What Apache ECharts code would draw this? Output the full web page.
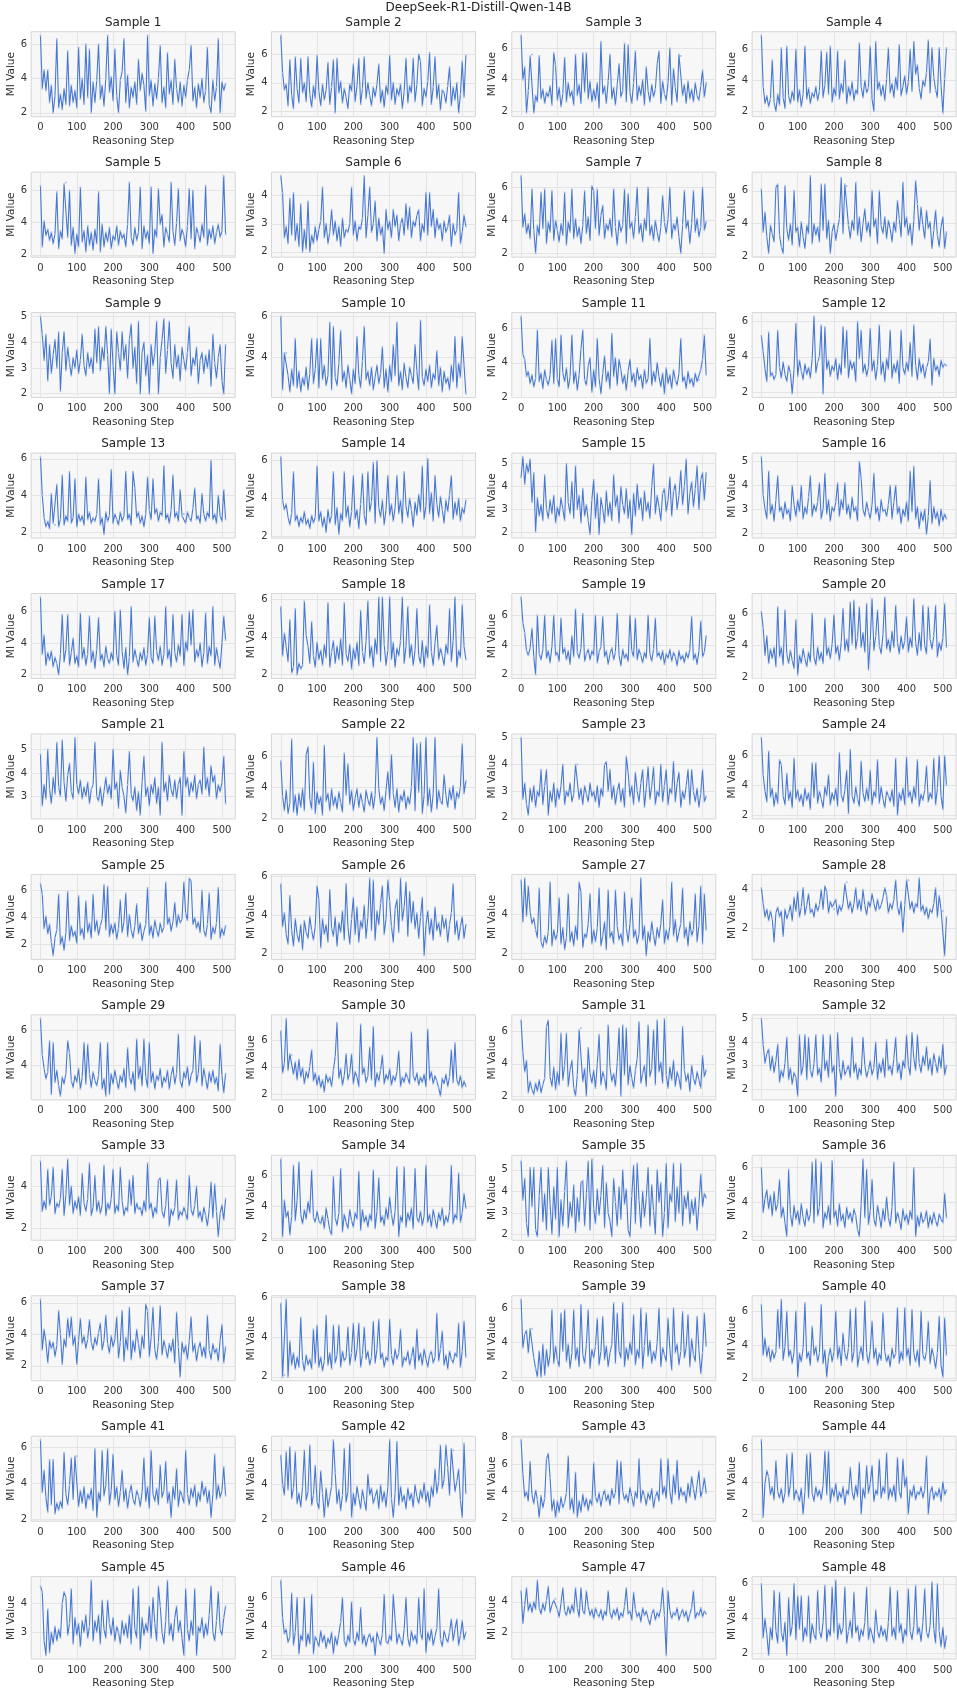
<!DOCTYPE html>
<html>
<head>
<meta charset="utf-8">
<script src="https://cdn.jsdelivr.net/npm/echarts@6/dist/echarts.min.js"></script>
<style>
html,body{margin:0;padding:0;background:#fff;}
#chart{width:957px;height:1690px;}
</style>
</head>
<body>
<div id="chart"></div>
<script>
const figTitle = 'DeepSeek-R1-Distill-Qwen-14B';
const xLabel = 'Reasoning Step';
const yLabel = 'MI Value';
const xTicks = [0,100,200,300,400,500];
const steps = [0,5,10,15,20,25,30,35,40,45,50,55,60,65,70,75,80,85,90,95,100,105,110,115,120,125,130,135,140,145,150,155,160,165,170,175,180,185,190,195,200,205,210,215,220,225,230,235,240,245,250,255,260,265,270,275,280,285,290,295,300,305,310,315,320,325,330,335,340,345,350,355,360,365,370,375,380,385,390,395,400,405,410,415,420,425,430,435,440,445,450,455,460,465,470,475,480,485,490,495,500,505,510];

const s1 = [6.5,3.4,4.5,3.3,4.5,2.6,3.6,2.0,3.0,6.3, 2.3,3.1,2.2,3.4,2.5,5.6,2.4,3.6,2.6,3.3, 2.3,5.8,2.8,4.0,2.5,6.0,2.9,5.7,2.0,3.8, 2.6,3.9,6.0,2.8,3.6,2.4,4.0,6.5,3.2,4.1, 2.7,5.7,3.0,2.0,3.9,4.4,6.3,2.6,4.2,2.3, 3.5,2.9,3.8,2.5,5.1,3.3,4.3,3.6,2.1,6.5, 3.0,3.9,2.4,3.7,2.8,4.0,5.9,2.6,3.5,2.3, 5.5,3.1,3.9,2.5,5.1,3.4,2.6,3.8,2.4,3.6, 2.9,3.9,4.5,5.9,2.7,3.5,2.3,3.7,2.9,4.0, 2.6,3.3,5.8,2.5,2.0,3.9,2.7,3.5,6.3,2.0, 3.8,3.3,3.7];
const s2 = [7.3,4.7,3.5,3.9,2.4,5.6,3.1,2.2,5.8,3.6, 2.6,5.7,3.3,4.0,2.7,5.8,3.2,2.3,3.8,2.9, 5.9,3.4,2.4,3.9,2.8,3.5,5.4,2.5,3.7,5.6, 1.9,5.7,3.3,4.1,2.6,3.6,3.0,2.2,3.9,3.4, 5.3,2.7,3.8,5.7,2.5,3.6,5.8,2.9,4.0,3.1, 2.4,3.7,3.0,3.9,5.3,2.6,3.5,2.3,3.8,3.2, 5.9,2.8,4.0,2.5,3.6,3.1,3.9,2.2,3.4,5.7, 2.6,3.8,3.3,5.7,2.7,3.9,6.0,5.5,2.4,3.6, 3.0,4.1,6.1,2.5,3.7,5.8,2.9,3.9,2.1,3.5, 3.3,2.6,3.8,5.1,2.4,3.7,2.8,4.0,1.9,3.2, 5.5,3.0,5.9];
const s3 = [6.8,4.0,4.8,1.9,3.3,5.5,5.6,1.9,3.0,2.6, 5.5,2.8,3.4,2.5,3.2,2.9,3.6,2.4,5.7,4.9, 2.7,3.5,2.3,3.1,5.4,2.6,3.8,2.9,3.3,2.4, 5.6,3.0,3.7,2.5,5.7,3.2,5.7,2.8,3.9,2.6, 3.4,2.7,3.8,2.2,6.4,3.1,3.6,2.5,3.9,5.6, 2.8,3.5,2.4,3.7,5.0,2.9,3.3,6.3,2.6,6.2, 3.2,2.5,3.8,5.8,2.7,3.6,3.0,4.0,2.4,4.8, 3.3,2.6,3.7,2.9,3.4,5.0,5.8,2.5,3.9,3.1, 2.7,3.8,6.0,2.4,4.7,3.5,2.6,5.6,5.5,3.0, 3.7,2.5,3.9,2.8,3.4,2.6,3.8,3.0,2.7,3.6, 4.6,2.9,3.8];
const s4 = [6.9,3.6,2.5,3.0,2.3,2.8,5.3,2.6,2.0,3.1, 2.4,6.1,2.9,2.2,6.2,3.0,2.5,3.3,2.7,6.0, 2.6,3.4,2.3,3.1,6.2,2.8,3.5,2.5,3.2,2.9, 3.6,2.7,3.3,5.9,2.9,3.7,5.8,3.1,6.2,2.6, 3.5,3.0,5.9,2.8,3.8,3.2,5.3,2.5,3.6,3.0, 3.9,2.7,3.4,3.1,6.4,3.6,2.9,4.0,3.2,3.5, 6.2,2.8,2.0,6.5,3.4,3.9,3.0,3.7,2.7,4.1, 6.1,3.2,3.8,2.9,4.2,3.4,6.3,3.0,3.6,4.3, 3.1,3.9,6.0,3.3,6.5,4.4,5.0,3.5,2.8,4.0, 3.6,4.5,6.6,3.2,6.1,4.2,3.4,2.9,6.1,3.7, 1.9,4.1,6.1];
const s5 = [6.3,2.5,4.1,3.2,3.6,2.9,3.4,2.7,3.3,5.9, 2.4,3.5,3.0,6.4,6.5,3.1,6.0,2.6,3.7,2.1, 3.3,2.5,6.2,2.8,3.5,2.2,3.8,2.6,3.4,2.3, 3.6,2.7,5.9,2.2,3.9,2.5,3.4,2.8,3.7,2.4, 3.2,2.9,3.8,2.6,3.5,3.0,3.3,2.5,3.9,6.5, 3.1,2.6,3.7,2.9,3.4,6.2,2.4,3.8,3.0,3.5, 2.7,6.2,2.1,3.6,3.1,6.1,3.9,4.5,2.5,3.7, 3.3,2.8,6.5,3.5,2.6,4.0,6.1,2.9,3.6,3.2, 2.5,3.8,6.1,3.0,6.0,2.4,3.7,3.3,2.8,3.9, 3.1,6.3,2.6,3.6,3.0,3.8,2.7,3.4,3.9,3.1, 3.5,6.9,3.3];
const s6 = [4.7,4.1,2.5,2.9,2.3,3.9,2.6,4.1,2.4,3.0, 2.2,3.7,2.0,2.8,2.1,3.8,2.0,2.6,2.3,2.9, 2.4,2.8,3.1,4.3,2.5,3.0,2.3,2.7,3.5,2.6, 3.1,2.4,2.9,2.2,3.2,2.5,2.8,2.7,3.0,4.3, 2.6,3.1,2.4,2.9,2.8,3.2,4.7,2.5,3.3,4.3, 2.7,3.0,3.8,2.4,3.2,2.6,2.9,1.95,3.5,2.8, 3.1,2.5,3.5,2.9,3.3,2.4,3.0,3.2,2.6,3.7, 2.8,3.6,2.5,3.1,2.9,3.3,3.5,2.4,3.0,2.7, 4.1,2.6,4.1,2.9,3.5,2.5,3.2,2.8,3.0,2.4, 3.1,2.7,2.9,3.3,2.2,3.0,2.6,2.8,4.1,2.3, 2.7,3.3,2.9];
const s7 = [6.7,3.6,4.4,3.2,3.8,2.9,5.9,3.4,2.0,3.7, 3.1,5.7,3.5,5.9,2.6,3.9,3.3,5.8,2.8,4.0, 3.4,2.7,3.8,3.1,5.7,2.5,3.9,3.3,5.9,2.9, 4.1,3.0,3.6,2.6,3.7,5.8,3.2,4.2,2.8,6.1, 5.8,3.5,5.9,3.1,4.3,4.9,2.9,3.8,3.4,4.1, 3.0,5.9,3.6,2.5,4.0,3.3,3.7,5.9,2.6,5.6, 3.5,3.9,2.9,4.2,6.0,3.2,3.8,2.7,4.1,3.4, 6.0,3.1,3.7,2.8,4.0,3.3,2.7,3.6,5.5,3.9, 3.2,4.1,6.0,2.9,3.8,3.4,4.2,3.0,2.0,3.7, 5.8,3.5,4.0,2.6,3.8,5.8,3.3,4.1,3.0,3.6, 6.0,3.4,3.9];
const s8 = [6.1,3.5,4.7,3.2,2.2,3.9,3.4,2.9,6.2,6.4, 3.3,2.6,2.2,6.3,3.7,3.0,4.0,2.7,6.0,3.5, 3.8,2.6,4.1,3.2,2.5,3.9,3.4,6.9,2.8,4.0, 3.3,3.8,2.9,6.4,3.6,6.4,3.1,4.2,2.2,3.5, 4.0,3.0,3.7,4.3,6.8,3.4,6.4,6.3,3.9,3.1, 4.2,3.6,6.5,3.3,4.4,2.9,4.0,4.9,3.5,4.1, 3.2,6.0,3.8,4.3,2.8,6.0,3.9,3.4,4.4,3.1, 4.2,3.7,2.9,4.1,3.5,5.4,4.3,3.2,6.5,3.8, 4.4,3.3,4.0,2.7,4.2,6.6,5.2,3.6,5.0,3.9, 3.1,4.8,3.7,4.1,2.5,3.6,4.8,3.3,2.6,3.8, 4.4,2.5,3.5];
const s9 = [5.0,4.3,3.3,4.3,2.5,3.9,2.8,3.5,4.1,3.0, 4.4,2.1,3.6,4.4,2.9,3.8,3.2,2.7,3.4,3.0, 3.7,2.8,3.3,4.3,3.1,2.7,3.6,3.0,3.4,2.8, 4.5,3.2,4.6,2.9,3.8,3.3,4.6,3.5,2.0,4.5, 3.1,2.0,4.4,3.6,2.9,4.4,3.3,3.9,2.6,4.1, 4.7,3.0,3.8,2.4,4.8,2.0,3.6,4.0,2.7,3.5, 2.0,3.9,3.1,3.6,4.8,2.0,3.4,4.1,4.9,2.8, 3.7,4.8,3.2,2.6,3.9,3.0,3.5,2.5,3.8,3.3, 2.9,3.6,4.6,2.7,3.4,3.1,3.8,2.4,3.3,3.6, 2.8,3.5,3.0,3.7,2.3,4.3,3.2,2.6,3.4,3.9, 2.5,2.0,3.9];
const s10 = [6.0,2.4,4.2,4.2,3.1,2.3,3.4,2.6,4.9,2.5, 3.3,2.3,3.0,2.6,3.5,2.4,3.2,4.9,2.7,3.4, 4.9,2.5,4.9,2.9,3.6,2.6,3.1,5.7,2.4,5.5, 3.0,2.6,3.7,5.3,2.8,3.3,2.5,3.6,2.9,2.2, 3.4,2.7,5.0,3.1,2.5,3.8,5.5,2.9,3.3,2.6, 3.5,2.4,3.0,3.6,2.7,3.2,4.5,2.5,3.4,2.3, 3.6,2.8,4.6,3.1,5.7,2.6,3.3,2.4,3.7,3.0, 2.5,3.5,3.1,2.7,4.6,3.3,2.4,5.8,3.0,2.6, 3.4,2.8,3.6,2.5,3.2,2.9,4.3,2.6,3.5,2.3, 3.3,2.7,3.0,2.4,3.6,2.8,5.0,2.5,3.7,3.0, 5.0,3.6,2.2];
const s11 = [6.7,4.5,4.2,3.2,3.5,2.8,3.3,2.6,3.1,5.9, 2.9,3.4,2.5,3.6,3.0,2.7,3.3,5.3,2.8,5.4, 3.1,2.6,5.6,3.4,2.9,3.7,2.5,3.2,5.6,2.8, 3.5,2.4,3.3,4.8,5.9,3.0,2.7,3.8,4.3,2.3, 3.6,2.6,5.4,3.1,2.2,3.4,4.4,2.9,3.5,2.5, 5.7,3.2,4.3,2.7,4.2,3.6,2.8,3.3,2.4,3.5, 4.2,2.9,3.4,2.6,3.7,3.0,3.3,2.5,3.6,2.8, 3.1,5.4,2.7,3.5,2.9,4.0,3.2,2.6,3.4,2.2, 3.7,2.8,3.3,2.5,3.6,3.0,2.7,3.4,5.4,2.9, 3.2,2.5,3.5,2.8,3.1,2.6,3.4,2.9,3.0,3.6, 4.2,5.6,3.3];
const s12 = [5.2,4.3,3.3,2.6,5.4,2.9,3.1,2.7,3.0,5.5, 3.4,2.8,3.7,3.0,2.6,3.5,3.1,1.9,3.3,5.9, 2.9,3.8,3.2,2.7,3.6,3.0,3.4,2.8,3.9,6.3, 3.1,3.7,4.0,5.8,1.9,5.7,3.3,3.8,2.9,3.5, 3.2,3.9,2.7,3.6,3.0,5.7,3.4,5.5,2.8,3.8, 3.3,3.7,2.6,6.0,3.9,5.5,3.1,3.6,2.9,3.4, 5.6,3.2,3.8,2.7,3.5,5.8,3.0,3.7,2.6,3.9, 3.3,5.5,2.8,3.6,3.1,3.8,2.5,5.5,3.4,3.0, 3.7,3.2,4.8,2.9,5.8,3.5,2.7,3.9,3.1,3.6, 2.8,3.4,3.7,5.0,2.4,3.9,3.2,3.5,2.9,3.8, 3.4,3.6,3.5];
const s13 = [6.1,4.0,2.8,2.3,2.6,2.2,4.1,2.5,2.4,4.6, 2.3,2.7,5.1,2.4,2.9,2.6,5.3,2.5,2.8,4.9, 2.3,3.0,2.6,2.9,2.4,5.0,2.7,3.1,2.5,2.8, 2.6,3.0,4.9,2.4,2.8,1.9,3.1,2.6,2.9,5.4, 2.5,3.0,2.7,2.4,3.1,2.6,2.9,5.3,2.7,3.0, 2.4,5.3,4.4,2.8,3.1,2.5,2.9,2.3,3.0,5.0, 3.2,2.7,4.9,3.0,3.3,2.6,3.1,2.9,5.6,2.7, 3.0,2.5,3.2,5.1,2.8,3.1,2.6,4.3,2.9,3.0, 2.5,3.1,2.8,2.6,3.3,4.4,2.7,2.9,2.5,4.1, 3.0,2.6,3.1,2.8,5.9,2.7,3.0,2.5,4.0,2.9, 2.6,4.3,2.7];
const s14 = [6.2,3.9,3.4,3.7,3.0,2.6,3.2,5.4,2.8,3.1, 2.5,3.0,2.7,3.3,2.6,2.9,2.4,3.1,2.7,3.0, 5.7,2.8,3.3,2.5,3.0,2.2,3.4,2.7,3.1,5.4, 2.6,3.5,2.1,3.2,2.8,5.4,3.0,3.6,2.5,3.3, 5.2,2.9,3.4,2.4,3.7,5.3,3.1,2.6,5.4,3.3, 3.8,5.9,2.7,6.0,3.5,3.0,3.9,2.6,3.4,5.2, 3.1,3.7,2.8,3.5,5.2,3.2,3.9,2.7,5.4,3.6, 3.0,4.0,3.4,2.5,3.8,3.1,4.2,3.3,5.7,2.9, 3.6,6.1,3.2,4.3,2.8,5.2,3.7,3.0,4.1,3.4, 2.7,3.9,3.3,4.2,5.2,2.9,3.8,3.1,4.0,2.8, 3.5,3.2,3.9];
const s15 = [4.4,5.3,4.1,5.0,4.6,5.2,3.3,4.6,2.0,3.5, 2.7,3.2,2.5,4.5,3.0,2.6,3.4,2.8,3.6,2.4, 3.1,2.7,3.5,3.0,2.5,5.0,3.3,2.8,4.2,2.6, 4.9,3.0,3.6,2.4,3.9,2.7,3.2,2.5,1.9,3.4, 4.3,2.6,3.7,1.9,3.5,3.0,2.4,3.8,2.7,3.3, 2.5,4.5,3.1,3.6,2.4,4.0,3.2,2.8,3.9,2.6, 3.4,1.9,3.7,2.7,4.1,3.0,3.5,2.5,3.8,2.9, 3.3,2.6,4.0,5.0,2.8,3.6,3.1,2.5,3.7,3.9, 2.9,3.4,4.4,2.7,3.8,4.1,3.0,3.6,4.7,3.2, 4.0,5.2,2.8,3.7,4.2,3.1,3.9,4.9,3.0,4.3, 4.6,3.4,4.6];
const s16 = [5.2,3.6,3.0,2.6,4.6,2.8,3.2,2.5,3.4,4.4, 2.9,3.1,2.6,3.3,2.8,3.0,2.5,4.0,3.2,2.7, 3.4,2.9,4.0,2.6,3.1,2.8,3.5,4.4,2.7,3.2, 2.9,3.3,4.1,2.6,3.0,4.5,2.8,3.4,2.5,3.1, 2.9,3.3,4.1,2.7,3.4,3.0,4.1,2.8,3.2,2.6, 3.5,2.9,3.1,2.5,5.0,4.3,3.0,2.7,3.3,2.9, 2.6,3.2,4.5,2.8,3.1,2.5,3.4,2.9,3.0,2.7, 3.2,4.0,2.6,3.3,4.0,2.8,3.1,2.4,3.0,2.7, 3.3,2.5,4.6,2.9,4.8,2.6,3.1,2.2,2.9,2.5, 3.0,1.95,2.7,4.2,2.4,3.1,2.6,2.9,2.3,3.0, 2.5,2.8,2.6];
const s17 = [6.9,3.3,4.5,2.6,3.4,2.9,3.5,2.5,3.1,2.7, 2.0,3.3,5.8,2.8,3.6,5.8,2.6,3.4,4.3,2.7, 3.2,2.5,5.9,3.0,3.7,2.6,3.3,5.7,2.8,3.5, 2.4,3.6,5.6,2.9,3.3,2.5,3.8,3.0,2.7,3.4, 2.9,6.0,3.2,2.6,6.1,3.5,2.4,3.7,2.0,3.1, 6.3,2.8,3.6,3.0,2.5,3.4,2.9,3.7,2.6,3.3, 5.6,3.1,2.7,5.7,3.5,2.9,3.8,2.6,3.3,6.3, 3.0,3.6,2.5,5.8,3.4,2.8,3.9,3.2,5.8,2.6, 4.1,3.5,6.0,3.9,6.1,2.8,3.6,3.1,4.0,2.5, 3.4,5.9,2.7,3.8,3.2,6.3,2.6,3.7,3.0,2.4, 4.0,5.7,4.2];
const s18 = [5.6,3.0,4.2,3.5,2.7,4.9,2.1,2.4,5.5,2.0, 2.6,2.3,2.5,5.9,4.1,3.5,2.6,4.8,3.0,2.4, 3.7,2.8,3.3,2.5,3.6,2.9,5.8,2.4,3.2,3.8, 2.6,3.5,2.8,3.9,2.5,5.8,3.1,2.7,3.6,2.3, 3.4,2.8,3.7,2.5,5.4,3.2,2.6,3.8,5.9,2.9, 3.5,2.4,3.9,3.1,6.1,2.7,6.1,3.6,2.5,3.3, 6.1,2.8,3.7,2.4,3.4,3.0,3.8,6.1,2.6,3.5, 5.6,2.9,3.6,2.5,3.3,5.5,3.0,2.6,3.8,2.4, 3.5,2.9,5.7,3.2,2.5,3.7,4.6,2.8,3.4,3.0, 2.5,3.6,3.1,5.5,2.7,3.8,6.1,2.4,3.3,2.9, 5.7,3.5,2.8];
const s19 = [7.2,5.5,4.8,3.6,3.3,3.8,5.1,3.2,2.0,6.0, 3.4,3.0,3.7,6.0,3.1,3.6,2.8,3.9,6.0,3.3, 3.5,2.9,5.8,3.4,3.8,3.0,3.6,2.7,4.6,3.2, 6.4,3.5,3.1,3.8,6.1,2.9,3.4,3.7,3.0,3.6, 3.3,6.0,2.8,3.5,3.9,5.9,3.2,3.6,2.7,3.4, 3.8,3.0,3.5,6.1,3.3,2.6,3.7,3.1,3.4,2.9, 6.0,3.6,3.2,5.8,3.0,3.7,3.3,2.8,3.5,3.1, 6.0,3.4,2.9,3.7,5.8,3.2,3.5,3.0,3.6,2.7, 3.4,3.1,3.7,2.9,3.5,3.2,2.6,3.6,3.0,3.3, 2.8,3.5,3.1,3.7,5.9,3.0,3.4,2.7,3.6,5.6, 3.2,3.5,4.6];
const s20 = [6.1,5.1,3.4,4.6,2.9,3.8,3.2,3.9,2.7,6.4, 3.3,3.9,2.8,6.2,3.5,2.9,3.7,3.1,2.6,5.6, 2.2,3.4,2.9,3.8,3.2,2.7,3.6,3.0,6.0,3.3, 2.8,3.9,3.1,3.6,2.9,5.7,3.4,3.9,3.2,4.1, 5.9,3.5,4.0,3.1,4.2,6.3,3.7,4.4,3.6,6.7, 4.1,6.8,3.8,4.5,6.4,3.9,4.8,3.6,6.6,2.5, 4.3,6.9,3.7,4.6,6.2,4.0,3.5,4.7,7.0,3.8, 4.4,3.6,4.9,3.9,6.5,4.2,3.5,4.6,3.8,4.3, 5.8,3.6,4.5,3.9,6.9,4.2,3.4,4.8,3.7,6.5, 4.0,3.5,6.4,4.4,3.8,4.6,6.5,3.3,4.2,3.7, 4.5,6.6,3.9];
const s21 = [4.8,2.6,3.5,2.9,5.0,3.3,2.7,3.8,3.1,5.3, 3.4,3.0,5.4,3.6,2.8,3.9,4.4,3.2,2.9,5.5, 3.5,3.1,3.7,2.9,3.4,3.0,3.6,2.7,3.3,3.5, 5.3,3.0,2.8,3.4,2.6,3.2,3.8,3.1,3.5,2.9, 5.0,3.3,3.6,2.5,4.1,3.4,3.0,2.3,3.5,4.9, 3.1,2.8,3.4,2.4,3.2,2.2,3.6,4.7,3.0,3.4, 2.6,3.5,3.1,3.8,2.7,3.4,2.2,5.3,3.2,3.6, 2.8,3.9,3.3,3.0,3.7,2.9,3.5,3.8,2.2,4.9, 3.4,3.8,3.0,3.6,3.2,3.9,2.9,3.5,3.7,3.1, 5.1,3.3,3.8,3.0,4.3,3.6,3.9,2.9,3.5,3.2, 3.6,4.7,2.7];
const s22 = [5.7,3.4,2.5,3.8,2.3,3.0,7.1,2.4,3.5,2.2, 3.6,2.7,3.9,2.5,6.1,6.6,3.2,2.6,5.6,2.3, 3.7,2.9,3.4,2.2,6.7,3.1,3.6,2.5,3.9,2.8, 3.4,2.6,3.7,3.0,2.4,6.2,3.5,5.5,2.9,3.8, 2.5,3.3,3.9,2.7,3.6,3.0,2.4,3.8,3.2,2.8, 3.7,2.6,3.5,7.2,3.9,2.9,3.4,2.5,3.8,5.0, 3.2,6.1,3.6,2.7,3.9,2.4,3.5,3.1,3.8,2.6, 3.4,2.9,4.0,7.2,2.5,6.8,3.7,6.9,2.3,3.5, 7.2,2.8,3.9,2.4,3.6,7.2,2.6,3.8,3.1,2.9, 4.8,3.5,2.7,3.9,3.2,4.1,2.6,3.7,3.3,4.0, 6.8,3.6,4.4];
const s23 = [5.0,2.7,3.3,2.5,2.1,3.1,2.6,3.2,2.4,3.0, 2.8,3.8,2.5,3.2,3.8,2.1,3.0,2.6,3.3,2.4, 3.1,2.7,3.2,4.0,2.5,3.0,2.8,3.3,2.6,2.9, 4.0,4.0,2.7,3.1,2.5,3.2,2.9,2.6,3.3,2.8, 3.0,2.6,3.2,2.4,3.1,2.8,4.0,4.1,3.0,3.8, 2.7,3.2,2.5,3.0,3.3,2.6,3.1,2.4,4.3,3.7, 2.8,3.2,2.5,3.7,3.0,2.6,3.3,3.8,2.4,3.1, 3.9,2.7,3.2,3.9,2.5,3.0,2.8,4.0,2.6,3.2, 3.8,2.5,3.1,2.9,4.1,2.6,3.3,3.7,2.4,3.0, 2.7,3.2,3.8,2.5,3.8,3.0,2.6,3.1,2.4,2.9, 3.8,2.6,2.8];
const s24 = [7.2,4.7,3.6,2.9,6.3,3.2,3.8,2.6,3.5,2.8, 5.7,5.4,3.3,2.7,4.8,3.0,3.6,2.5,5.8,3.1, 3.7,2.9,3.4,2.6,3.8,3.0,3.5,2.4,5.5,3.2, 5.5,2.8,3.6,3.1,2.5,3.9,3.3,4.7,2.7,3.5, 3.0,3.8,2.6,6.2,3.4,2.9,3.7,5.0,2.1,6.4, 3.3,2.8,3.9,3.1,2.6,5.6,3.5,2.9,3.8,3.0, 5.0,2.7,3.6,3.2,5.7,2.8,3.9,3.1,2.5,3.6, 3.3,2.9,3.7,2.6,5.8,2.0,3.5,3.0,3.8,2.7, 5.9,3.2,3.6,2.8,3.9,3.1,5.7,2.6,3.4,3.0, 3.7,5.3,2.9,3.5,3.1,5.8,2.7,3.8,6.0,3.3, 2.4,6.0,4.0];
const s25 = [6.5,5.7,3.2,4.1,2.8,3.5,2.2,1.2,2.5,3.1, 5.7,2.0,2.6,1.6,2.9,5.9,2.3,3.4,2.6,3.0, 2.1,5.6,2.7,3.2,2.4,5.2,2.9,3.6,2.5,5.7, 3.0,3.8,2.7,3.4,3.9,6.4,3.1,6.3,2.6,3.5, 2.8,3.6,2.4,3.2,5.3,2.9,3.7,5.8,2.6,4.2, 3.1,2.5,3.4,5.0,2.8,3.6,2.3,3.0,3.5,6.2, 2.7,3.4,2.5,3.8,3.1,2.6,3.6,2.9,3.3,6.6, 3.5,4.0,3.0,3.7,5.1,3.3,4.2,3.6,3.9,6.6, 4.3,3.8,6.9,6.7,3.5,4.0,3.2,3.7,2.9,6.0, 3.1,2.6,3.5,5.8,2.4,3.3,2.8,3.6,6.2,2.5, 3.2,2.7,3.4];
const s26 = [5.6,3.4,4.1,3.0,2.5,5.0,3.2,2.4,3.8,3.0, 2.6,3.5,2.2,3.7,3.1,2.8,3.9,3.2,2.7,3.4, 5.5,4.8,2.3,3.8,3.0,3.5,2.6,5.3,3.3,2.9, 3.9,2.4,3.6,3.1,4.2,2.7,5.6,3.4,2.5,3.8, 4.9,3.0,4.4,2.6,3.7,3.3,4.5,2.8,3.9,5.9, 3.2,5.8,2.7,4.2,3.5,4.6,5.5,3.0,3.8,5.8, 4.7,3.4,2.6,4.3,4.8,3.1,5.9,3.7,4.4,5.7, 2.9,5.2,3.6,4.7,3.3,4.1,2.8,3.9,4.9,1.9, 3.5,4.2,3.0,3.8,2.7,4.4,3.2,3.6,2.9,4.0, 3.3,3.8,2.6,3.5,4.1,5.6,3.0,3.7,2.7,3.4, 3.9,2.8,3.5];
const s27 = [5.7,3.6,5.8,3.9,5.4,4.1,3.5,3.8,3.2,2.8, 5.3,2.6,2.3,2.9,2.5,3.1,5.6,2.4,3.2,2.7, 3.0,4.8,2.5,3.3,2.2,2.8,5.0,2.6,3.1,2.4, 3.4,2.7,5.6,5.1,2.3,3.0,2.8,3.5,5.0,2.5, 3.2,2.6,3.3,5.3,2.4,2.9,3.6,2.2,5.2,2.8, 3.1,2.5,5.2,3.4,2.7,3.0,2.4,5.1,3.3,2.6, 3.5,4.8,2.8,3.2,2.5,3.0,5.8,2.7,3.4,1.9, 3.1,2.6,3.6,2.9,2.4,3.3,2.8,3.5,4.7,2.5, 3.2,2.7,3.4,5.6,2.9,3.7,2.6,3.1,3.5,5.3, 2.8,3.3,2.4,3.6,2.9,3.2,5.0,2.6,3.4,5.4, 2.5,5.0,3.2];
const s28 = [4.1,3.3,2.6,3.0,2.4,2.9,2.5,1.3,2.8,3.1, 2.6,2.9,1.6,3.0,2.5,2.8,3.2,2.4,3.6,2.9, 3.9,2.6,3.1,4.1,2.7,3.2,3.8,2.8,3.0,2.6, 3.3,2.9,3.2,4.0,3.0,4.2,3.9,2.8,3.4,3.1, 3.0,3.5,2.7,3.2,2.9,3.3,4.3,4.4,3.0,3.4, 2.8,3.3,4.1,3.0,3.5,2.9,4.0,3.2,2.7,3.4, 3.1,3.8,3.3,2.9,3.5,3.0,3.2,3.6,4.1,3.7, 2.8,3.3,3.0,3.5,4.5,3.1,2.7,3.4,1.8,3.2, 4.5,4.5,3.0,3.4,2.8,3.3,3.1,4.6,2.9,3.2, 2.7,3.1,2.5,3.0,2.8,3.3,4.1,2.6,3.7,3.0, 2.9,0.6,2.6];
const s29 = [6.7,4.6,3.8,3.2,3.6,5.4,2.3,5.3,3.0,3.7, 2.8,2.2,3.3,2.9,3.5,5.4,4.7,3.1,2.7,3.4, 3.0,3.8,2.6,3.3,5.3,2.9,5.2,3.5,2.7,3.6, 3.1,2.8,3.4,5.3,2.6,3.2,2.2,5.3,2.3,3.5, 2.9,3.7,3.1,2.6,3.4,3.0,3.8,2.7,5.0,3.3, 2.9,3.6,2.5,5.5,3.2,3.9,2.8,5.5,3.3,2.7, 5.3,3.0,3.6,2.6,3.4,3.1,3.8,2.7,3.3,3.0, 3.7,2.6,3.4,3.9,2.9,3.5,5.8,3.1,2.7,3.6, 3.2,3.9,2.8,3.4,3.7,5.7,3.0,3.5,5.4,2.8, 3.8,3.2,2.6,3.6,3.0,3.7,2.9,3.3,2.5,5.2, 3.4,2.4,3.5];
const s30 = [6.7,3.6,4.3,7.6,3.8,5.0,4.9,3.5,4.4,3.1, 4.6,3.3,4.0,2.8,3.7,3.2,4.1,5.3,3.0,3.6, 2.7,3.4,2.5,3.1,2.2,3.5,2.9,3.3,2.6,3.8, 4.8,7.3,3.2,3.9,2.7,3.4,5.0,3.1,3.6,5.0, 2.8,3.7,3.3,2.6,7.2,3.5,4.0,2.9,3.4,5.5, 3.1,7.0,2.6,3.6,3.0,3.8,4.9,2.8,3.5,3.1, 3.9,2.7,3.4,3.0,3.7,5.2,2.6,3.3,2.9,3.6, 3.2,2.8,6.6,3.4,3.0,3.6,2.7,3.3,2.9,3.5, 2.6,6.8,3.1,3.7,2.8,3.4,3.0,2.5,1.9,3.2, 2.8,3.5,2.6,3.3,5.3,2.9,5.8,3.1,2.7,3.4, 2.5,3.0,2.6];
const s31 = [6.7,4.7,3.5,4.2,2.2,2.9,2.4,2.1,2.8,2.3, 3.0,2.2,2.7,3.1,6.3,6.7,3.2,2.6,3.8,2.4, 3.5,2.7,5.9,3.0,3.9,5.9,2.6,3.6,4.2,2.5, 2.0,3.3,6.1,6.2,2.9,3.7,2.0,5.0,3.4,2.8, 3.6,2.5,4.0,5.8,2.7,3.5,3.1,2.4,6.4,3.8, 2.9,3.4,2.6,4.1,6.2,2.0,6.4,3.3,6.2,2.7, 3.9,3.1,2.5,3.6,4.3,6.6,2.8,3.4,3.9,2.6, 6.4,3.2,3.7,6.1,2.7,6.7,3.5,4.1,2.8,6.8, 3.3,2.5,3.8,3.0,4.2,2.6,3.5,3.1,2.4,6.3, 3.6,2.9,3.4,2.3,3.9,3.1,2.7,3.5,3.0,2.5, 4.5,3.2,3.6];
const s32 = [5.0,3.9,3.1,3.5,3.7,2.8,3.4,2.7,3.2,3.9, 2.3,2.8,2.5,3.1,4.2,2.4,2.9,2.2,2.7,2.5, 1.7,4.3,2.6,3.0,4.3,2.4,4.2,2.8,2.5,3.1, 4.3,2.6,2.9,2.3,4.3,2.8,3.2,2.5,4.3,2.7, 3.0,1.7,4.4,2.9,2.4,3.2,2.6,2.8,3.0,2.5, 4.2,2.7,3.1,2.4,2.9,2.6,4.2,3.0,2.5,2.8, 3.2,2.6,2.9,4.0,2.4,3.1,2.7,3.3,2.5,4.1, 2.8,3.0,2.6,3.3,4.2,2.7,3.1,2.4,3.2,2.9, 4.3,3.0,2.6,4.4,3.3,2.8,4.3,3.1,2.7,3.4, 3.0,3.8,2.8,3.3,2.6,3.5,3.1,2.7,3.4,2.9, 3.9,2.6,3.0];
const s33 = [5.2,2.8,3.3,2.9,4.8,3.1,3.5,4.9,2.7,3.2, 3.0,3.4,4.8,2.6,3.6,5.3,3.1,4.0,2.7,3.3, 2.9,3.5,2.6,4.6,3.2,2.8,3.4,5.1,2.6,3.0, 4.5,2.8,3.3,2.7,3.1,5.0,2.6,3.2,2.9,3.4, 4.8,2.7,3.1,2.8,4.9,3.3,2.6,3.0,2.8,4.3, 3.1,4.5,2.7,3.2,2.9,3.0,2.6,3.3,2.8,5.1, 2.9,3.2,2.5,3.0,2.7,4.3,4.4,2.8,2.5,3.1, 4.3,2.1,2.9,2.6,3.0,4.3,2.4,2.8,2.6,3.0, 2.7,2.4,4.5,2.9,2.6,3.1,4.0,2.5,2.8,2.3, 3.0,2.6,2.1,2.9,4.2,2.5,4.1,2.8,1.6,2.7, 3.1,2.4,3.4];
const s34 = [7.0,2.1,4.4,3.3,3.7,2.2,3.4,6.6,3.1,4.4, 6.8,3.5,2.9,3.8,3.2,4.3,3.6,6.3,3.3,3.0, 3.7,3.1,2.9,3.4,2.6,3.9,3.2,2.5,2.2,5.9, 3.3,2.8,3.6,6.4,2.4,3.5,3.0,2.6,3.8,3.1, 2.7,3.6,3.2,6.2,2.5,3.8,3.0,3.4,2.7,3.5, 3.1,6.3,2.6,3.7,5.8,3.0,3.4,2.8,3.9,3.2, 4.6,3.5,2.8,3.7,6.5,2.1,3.4,3.0,6.5,2.7, 3.6,3.1,3.9,2.6,6.4,3.3,3.0,3.7,2.8,3.4, 6.6,3.0,3.5,2.7,3.8,3.2,2.6,3.6,3.1,3.9, 2.8,3.4,3.0,3.7,6.6,2.9,3.5,3.2,6.1,3.0, 3.6,4.8,3.9];
const s35 = [5.4,3.6,4.6,2.5,1.9,5.1,3.3,5.1,2.2,1.9, 3.8,5.1,2.6,3.9,2.2,5.1,3.4,2.0,4.2,2.7, 5.1,1.9,3.6,2.4,4.0,5.4,2.3,3.5,2.8,4.3, 2.1,3.7,2.6,4.4,4.5,2.4,3.9,5.4,2.2,5.5, 3.2,2.5,4.1,2.9,3.8,5.2,2.3,4.4,3.0,2.6, 1.9,4.6,3.5,2.4,4.2,2.7,5.0,3.4,4.1,2.2, 1.9,3.8,5.2,2.5,5.3,3.6,2.3,4.0,2.8,3.7, 5.1,2.4,4.3,3.1,2.0,5.0,3.5,4.4,1.9,3.0, 5.3,2.3,3.9,3.5,5.3,2.6,4.2,3.0,5.3,2.4, 3.8,3.2,4.0,2.5,3.6,2.9,3.7,2.2,3.4,4.8, 3.3,3.9,3.7];
const s36 = [6.0,3.4,4.2,4.7,3.6,4.4,3.2,4.6,3.5,3.9, 5.3,3.1,3.7,2.8,2.0,5.9,3.3,2.6,3.8,3.0, 3.5,2.7,3.9,3.1,2.6,3.6,2.9,3.3,6.3,2.8, 6.5,3.2,3.7,6.3,2.5,3.4,3.0,3.8,2.7,6.4, 3.1,3.5,2.6,3.9,2.9,3.3,2.5,3.7,3.0,3.4, 2.8,3.6,3.2,2.4,2.0,3.9,6.5,3.1,5.9,2.7, 3.5,5.3,3.0,2.6,3.8,3.2,2.5,3.6,2.9,4.3, 3.1,2.6,3.7,6.3,2.8,3.4,3.0,2.4,3.6,2.9, 3.3,2.7,3.5,3.0,6.0,2.0,3.2,2.6,3.4,2.8, 3.0,3.5,2.5,3.2,2.7,3.4,2.9,2.6,3.3,3.0, 2.8,4.5,3.1];
const s37 = [6.2,3.0,4.3,3.5,2.2,3.6,3.1,3.5,2.6,3.3, 5.5,4.0,2.1,3.7,3.2,5.0,3.8,5.1,3.3,3.9, 2.1,3.6,5.0,3.4,3.9,3.1,3.7,4.9,3.5,3.0, 3.8,3.3,4.1,4.7,3.0,3.6,5.2,3.4,2.8,3.9, 3.2,3.7,5.1,2.5,3.5,5.5,2.3,3.8,3.0,5.7, 2.4,3.6,2.9,4.3,3.4,2.5,3.9,3.1,5.9,5.5, 2.6,3.8,5.7,3.0,2.4,3.5,5.8,2.7,3.6,3.1, 2.5,3.4,2.9,3.7,2.2,5.4,3.2,1.3,3.5,2.8, 3.3,2.4,3.6,5.1,2.9,3.4,2.3,3.1,3.5,2.6, 3.2,2.5,5.2,3.0,2.4,3.4,2.8,3.1,2.3,3.6, 4.6,2.2,3.2];
const s38 = [5.7,2.0,2.1,5.9,2.0,3.8,2.6,3.2,2.4,3.0, 2.5,5.0,2.8,2.3,3.1,2.6,2.9,2.4,4.4,2.7, 4.6,2.5,3.0,2.3,2.8,5.1,2.6,3.2,2.4,4.6, 2.7,3.1,4.6,2.5,3.3,2.8,3.0,4.5,2.6,3.2, 4.7,2.8,3.4,4.7,2.5,3.1,4.5,2.9,3.3,2.6, 3.0,4.8,2.7,3.4,4.9,2.9,3.2,2.5,3.0,2.8, 4.9,3.1,2.6,3.4,2.9,3.2,4.4,2.5,3.0,2.8, 3.3,2.6,3.0,3.5,2.4,4.4,2.8,3.2,2.6,3.4, 2.9,2.5,3.1,3.3,2.7,3.0,5.2,2.8,3.4,4.3, 2.6,3.1,2.4,3.3,2.9,2.7,3.2,3.0,4.7,2.5, 3.3,4.8,3.0];
const s39 = [6.5,3.7,4.5,4.7,3.4,4.8,4.8,3.1,2.5,2.0, 3.5,2.0,3.9,2.1,3.6,2.6,3.3,5.9,2.8,3.8, 3.0,2.6,5.7,3.5,5.9,2.9,3.9,2.5,3.4,5.9, 3.0,3.7,2.6,6.2,3.3,2.8,3.9,5.9,2.5,3.6, 3.1,3.8,5.4,2.7,3.5,5.5,3.0,3.8,2.6,3.4, 3.9,6.3,2.8,5.7,3.5,3.1,6.3,2.6,3.7,3.0, 4.0,3.3,5.6,2.7,3.6,3.1,6.0,2.5,3.8,5.7, 3.2,4.1,2.8,3.5,3.0,4.0,6.0,2.6,3.7,3.3, 2.9,5.4,3.6,2.4,6.0,3.4,3.9,2.7,3.5,5.8, 3.1,3.7,5.6,2.6,4.2,3.3,2.9,5.5,3.6,2.2, 3.4,5.7,3.8];
const s40 = [6.4,3.4,4.4,3.3,3.9,3.0,3.7,3.2,3.6,6.1, 3.8,6.7,3.1,3.9,6.0,3.3,3.7,2.9,3.6,6.0, 2.1,3.5,3.0,3.8,6.5,3.2,3.6,2.8,5.1,3.4, 3.9,3.0,3.5,6.4,2.9,3.7,2.1,3.3,3.8,3.0, 3.6,6.0,3.2,3.9,2.8,4.7,3.5,3.1,3.8,6.1, 3.0,3.6,6.2,2.7,3.4,3.9,3.1,6.6,3.5,2.9, 3.7,5.4,3.2,3.8,2.8,3.5,3.1,5.9,3.6,3.0, 3.4,2.7,3.8,3.2,3.5,6.2,2.9,3.6,3.1,6.2, 3.3,3.8,2.8,6.1,3.5,3.0,3.7,2.7,6.0,3.4, 3.1,3.6,5.4,2.9,3.8,3.3,2.6,3.5,5.7,2.8, 2.1,5.6,3.4];
const s41 = [6.4,3.5,4.7,3.2,2.4,5.3,2.8,5.3,2.3,2.9, 2.5,3.0,2.6,5.7,3.4,2.8,3.9,5.4,3.1,5.5, 5.5,2.7,3.6,2.9,3.8,2.6,3.4,3.1,3.7,2.5, 5.9,2.1,3.5,3.0,5.8,3.3,3.9,5.9,2.8,3.6, 5.6,3.1,3.8,2.7,3.5,4.7,3.0,3.7,2.6,3.4, 3.9,3.1,2.8,3.6,3.3,2.7,3.5,5.4,3.0,3.8, 2.6,5.8,3.4,3.0,3.7,2.8,5.0,3.2,3.6,5.2, 2.9,3.5,2.1,3.8,3.1,4.8,2.7,3.6,3.3,2.9, 5.8,3.4,2.8,3.7,3.2,3.9,2.7,3.5,3.0,4.1, 3.3,3.8,2.9,3.6,2.1,3.4,5.6,3.1,3.9,3.2, 3.6,4.9,3.3];
const s42 = [5.7,4.0,3.4,5.9,3.7,6.2,3.2,3.8,5.9,2.9, 3.5,2.7,3.9,6.0,3.1,3.6,6.3,2.8,3.4,5.1, 3.0,2.6,4.8,3.5,2.1,3.8,2.7,3.3,3.9,6.6, 4.7,2.9,3.7,2.5,3.4,6.1,3.0,3.6,6.4,2.1, 3.5,2.8,3.9,3.2,2.6,3.7,3.1,2.5,4.6,3.4, 3.8,2.9,3.3,3.7,2.6,4.0,3.0,3.6,2.7,3.9, 6.6,3.2,2.1,3.5,6.5,2.8,3.9,3.0,3.4,2.6, 3.8,3.1,3.5,2.7,4.0,3.3,2.9,3.7,3.2,4.1, 3.0,3.6,2.7,3.9,3.3,4.9,3.5,4.2,6.3,3.8, 4.3,6.3,5.0,3.4,6.1,6.0,3.6,4.2,4.9,3.1, 2.1,6.4,3.5];
const s43 = [7.8,5.3,3.6,4.0,3.3,6.2,3.8,3.1,4.1,3.4, 2.1,3.7,2.8,3.5,6.4,6.8,5.0,2.6,3.4,2.1, 3.3,2.5,3.6,2.8,3.2,3.9,6.6,2.7,3.5,2.4, 5.4,2.1,3.3,2.5,3.8,2.9,3.5,2.6,3.4,3.0, 6.1,3.6,3.2,3.9,2.9,3.7,4.1,3.3,3.8,3.0, 4.2,3.5,3.9,6.3,3.1,6.2,4.0,3.4,3.8,3.2, 4.3,3.6,2.9,4.0,3.5,6.4,3.2,4.1,3.7,3.0, 3.9,3.4,4.2,2.8,3.6,4.0,3.3,6.4,3.8,4.4, 3.5,6.4,4.0,3.1,5.2,3.8,6.3,3.4,4.3,3.7, 4.0,3.2,4.6,3.6,5.1,4.2,3.4,4.5,5.5,3.6, 4.1,5.0,3.9];
const s44 = [6.6,1.8,3.9,4.7,4.3,3.2,3.7,2.9,5.3,3.4, 3.0,3.6,2.7,3.3,5.7,3.1,3.8,5.8,2.9,3.5, 3.2,2.8,3.6,2.0,3.4,5.7,3.0,5.8,3.3,2.8, 3.7,3.1,3.5,2.9,3.8,5.9,3.2,5.9,2.7,3.6, 3.1,3.9,2.8,3.4,3.0,3.7,2.6,3.5,3.2,4.9, 3.4,2.9,3.8,3.1,5.2,2.0,3.6,3.0,5.0,3.3, 3.9,5.0,2.8,3.5,3.2,5.4,3.0,3.7,3.3,5.8, 2.9,3.6,3.1,3.8,2.8,5.5,3.4,3.0,5.4,3.7, 4.3,2.0,3.5,3.1,3.8,2.9,3.4,3.2,3.7,3.0, 3.5,5.6,2.0,3.3,3.7,2.9,3.4,3.1,3.6,2.8, 4.0,3.2,3.5];
const s45 = [4.6,4.4,2.7,2.2,3.8,2.3,3.0,2.6,3.2,2.7, 3.1,2.8,4.0,4.4,4.2,2.9,3.3,4.5,2.6,3.5, 2.9,3.3,2.5,3.4,3.0,3.6,2.8,3.2,4.8,2.7, 3.4,3.0,3.6,2.6,4.1,3.1,2.8,4.1,3.3,2.9, 3.5,2.7,3.2,3.0,2.6,3.4,2.9,3.3,2.8,3.6, 2.6,4.5,3.1,2.8,4.6,2.4,3.5,2.9,3.3,3.0, 3.9,2.8,4.2,3.3,2.7,4.6,3.9,3.0,2.6,3.4, 4.8,2.9,3.3,2.7,3.5,3.9,3.0,3.4,2.8,2.2, 4.5,3.1,2.7,3.4,2.9,4.5,2.2,3.2,3.0,3.5, 2.8,3.3,2.9,3.6,4.6,3.0,2.7,3.4,4.4,3.1, 2.9,3.5,3.9];
const s46 = [7.2,4.6,3.5,3.8,2.9,3.3,6.3,2.7,3.6,6.0, 2.1,3.4,3.0,6.0,2.6,3.5,2.8,6.2,2.1,3.3, 3.0,2.6,3.7,2.9,3.4,2.5,3.2,2.8,3.6,2.1, 3.3,2.7,3.5,4.3,6.0,3.0,2.6,3.4,2.9,5.7, 3.1,2.7,3.6,3.0,5.3,2.8,3.4,2.6,3.2,3.5, 2.9,3.3,2.0,3.6,3.1,2.7,3.5,6.2,3.0,2.8, 3.4,3.0,6.2,4.5,2.8,3.5,3.1,2.7,3.8,6.0, 3.2,2.6,3.7,3.0,3.4,2.8,6.0,3.5,3.1,6.6, 2.2,3.6,3.0,3.8,2.7,3.3,3.9,6.6,3.1,2.6, 3.7,3.2,2.9,3.6,4.5,3.0,3.8,4.5,2.7,3.4, 4.4,3.1,3.6];
const s47 = [4.7,2.6,3.8,4.9,3.4,3.9,3.3,4.0,3.5,5.4, 3.6,3.2,3.9,3.4,4.1,5.0,3.3,3.8,4.1,4.2, 3.5,3.0,3.9,4.9,3.4,3.1,3.7,3.2,3.8,3.3, 4.9,3.6,3.0,4.9,3.4,3.2,4.7,3.7,3.1,3.5, 2.9,3.6,3.2,3.0,3.5,2.8,3.4,3.1,4.7,3.3, 2.9,3.5,3.1,3.6,2.8,3.3,3.0,3.7,4.9,3.2, 3.4,2.8,4.6,3.5,3.0,3.3,2.7,3.6,3.1,3.4, 2.9,2.5,3.2,3.5,2.8,3.3,3.0,3.6,4.9,3.1, 0.5,4.7,3.4,2.9,3.3,3.1,3.6,2.8,3.2,3.5, 3.0,3.4,2.7,3.2,3.6,4.7,2.9,3.3,3.1,3.6, 3.0,3.4,3.2];
const s48 = [6.0,2.9,4.0,3.1,1.9,3.5,2.8,5.6,3.3,2.6, 5.5,3.2,2.7,3.8,1.9,5.2,3.0,3.6,6.0,2.8, 5.3,3.4,5.3,2.7,3.5,3.0,5.3,2.6,3.7,3.1, 2.8,5.6,3.3,2.9,3.8,5.9,2.7,3.4,3.0,5.8, 3.2,6.2,2.8,3.7,3.1,3.5,5.8,2.6,3.3,3.9, 2.9,5.5,3.2,3.6,2.7,3.4,3.0,3.8,5.8,2.8, 3.5,3.1,2.6,4.5,3.3,2.9,3.6,3.0,3.4,2.7, 3.8,5.8,3.0,3.5,2.8,5.6,3.2,3.7,2.6,3.4, 3.0,5.7,3.3,2.8,3.6,5.9,3.1,3.5,2.7,3.8, 5.7,3.2,2.9,3.6,6.1,3.4,2.6,6.0,3.3,2.4, 3.5,2.3,3.0];

const samples = [s1,s2,s3,s4,s5,s6,s7,s8,s9,s10,s11,s12,s13,s14,s15,s16,s17,s18,s19,s20,s21,s22,s23,s24,s25,s26,s27,s28,s29,s30,s31,s32,s33,s34,s35,s36,s37,s38,s39,s40,s41,s42,s43,s44,s45,s46,s47,s48];
const sampleNames = samples.map((_, i) => 'Sample ' + (i + 1));
const yTicks = [
 [2,4,6],[2,4,6],[2,4,6],[2,4,6],
 [2,4,6],[2,3,4],[2,4,6],[2,4,6],
 [2,3,4,5],[2,4,6],[2,4,6],[2,4,6],
 [2,4,6],[2,4,6],[2,3,4,5],[2,3,4,5],
 [2,4,6],[2,4,6],[2,4,6],[2,4,6],
 [3,4,5],[2,4,6],[2,3,4,5],[2,4,6],
 [2,4,6],[2,4,6],[2,4],[2,4],
 [4,6],[2,4,6],[2,4,6],[2,3,4,5],
 [2,4],[2,4,6],[2,3,4,5],[2,4,6],
 [2,4,6],[2,4,6],[2,4,6],[2,4,6],
 [2,4,6],[2,4,6],[2,4,6,8],[2,4,6],
 [3,4],[2,4,6],[2,4],[2,4,6]
];

// layout
const COLS = 4;
const plotW = 204, plotH = 85;
const colLeft = c => 31.2 + 240.3 * c;
const rowTop = r => 31.7 + 140.45 * r;
const X_MIN = -25.55, X_MAX = 536.55;
const LINE = '#4878d0';
const TXT = '#333333';
const FONT = 'DejaVu Sans';

const grids = [], xAxes = [], yAxes = [], series = [];
const titles = [{
  text: figTitle, left: 478.5, top: 2, padding: 0, textAlign: 'center',
  textStyle: {fontFamily: FONT, fontSize: 12, fontWeight: 'normal', color: '#222'}
}];

samples.forEach((vals, i) => {
  const r = Math.floor(i / COLS), c = i % COLS;
  const left = colLeft(c), top = rowTop(r);
  grids.push({left: left, top: top, width: plotW, height: plotH, show: true,
    backgroundColor: '#f7f7f7', borderColor: '#d6d6d6', borderWidth: 1, containLabel: false});
  const lo = Math.min(...vals), hi = Math.max(...vals);
  const pad = (hi - lo) * 0.05;
  xAxes.push({
    type: 'value', gridIndex: i, min: X_MIN, max: X_MAX,
    axisLine: {show: false}, axisTick: {show: false, customValues: xTicks},
    axisLabel: {customValues: xTicks, fontFamily: FONT, fontSize: 10, color: TXT, margin: 6},
    splitLine: {show: true, lineStyle: {color: '#e4e4e4', width: 1}},
    name: xLabel, nameLocation: 'middle', nameGap: 19,
    nameTextStyle: {fontFamily: FONT, fontSize: 10.5, color: TXT}
  });
  yAxes.push({
    type: 'value', gridIndex: i, min: lo - pad, max: hi + pad,
    axisLine: {show: false}, axisTick: {show: false, customValues: yTicks[i]},
    axisLabel: {customValues: yTicks[i], fontFamily: FONT, fontSize: 10, color: TXT, margin: 4},
    splitLine: {show: true, lineStyle: {color: '#e4e4e4', width: 1}},
    name: yLabel, nameLocation: 'middle', nameGap: 9,
    nameTextStyle: {fontFamily: FONT, fontSize: 10.5, color: TXT}
  });
  series.push({
    type: 'line', xAxisIndex: i, yAxisIndex: i,
    data: vals.map((v, j) => [steps[j], v]),
    showSymbol: true, symbol: 'circle', symbolSize: 2,
    itemStyle: {color: '#a9c0ea', borderWidth: 0},
    lineStyle: {color: LINE, width: 1.1},
    emphasis: {disabled: true}, animation: false, z: 3
  });
  titles.push({
    text: sampleNames[i], left: left + plotW / 2, top: top - 15, padding: 0, textAlign: 'center',
    textStyle: {fontFamily: FONT, fontSize: 12, fontWeight: 'normal', color: '#222'}
  });
});

const chart = echarts.init(document.getElementById('chart'), null, {renderer: 'canvas'});
chart.setOption({
  animation: false,
  backgroundColor: '#ffffff',
  title: titles,
  grid: grids,
  xAxis: xAxes,
  yAxis: yAxes,
  series: series
});
</script>
</body>
</html>
